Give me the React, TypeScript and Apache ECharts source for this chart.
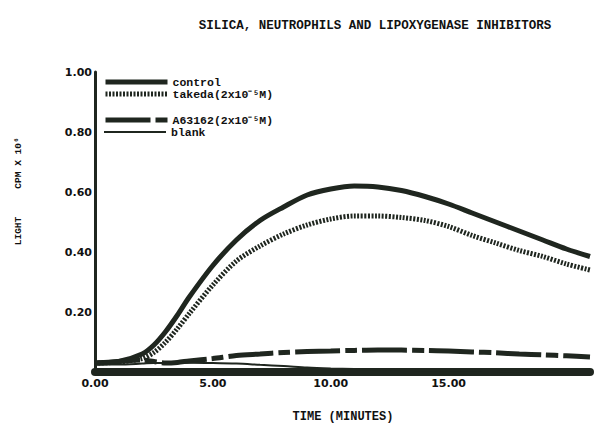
import React, { useEffect, useRef } from "react";
import * as echarts from "echarts";

const times = [0, 1, 2, 2.5, 3, 3.5, 4, 5, 6, 7, 8, 9, 10, 11, 12, 13, 14, 15, 16, 17, 18, 19, 20, 21];
const control = [0.03, 0.035, 0.06, 0.09, 0.135, 0.19, 0.25, 0.355, 0.44, 0.505, 0.55, 0.59, 0.61, 0.62, 0.617, 0.605, 0.585, 0.56, 0.53, 0.5, 0.47, 0.44, 0.41, 0.385];
const takeda = [0.03, 0.033, 0.045, 0.065, 0.1, 0.145, 0.195, 0.29, 0.37, 0.42, 0.46, 0.49, 0.51, 0.52, 0.52, 0.515, 0.505, 0.485, 0.455, 0.43, 0.405, 0.385, 0.36, 0.34];
const a63162 = [0.03, 0.035, 0.04, 0.035, 0.03, 0.032, 0.037, 0.045, 0.055, 0.06, 0.065, 0.068, 0.07, 0.072, 0.073, 0.073, 0.072, 0.07, 0.067, 0.064, 0.06, 0.057, 0.054, 0.05];
const blank = [0.025, 0.025, 0.028, 0.03, 0.03, 0.03, 0.031, 0.03, 0.028, 0.024, 0.02, 0.015, 0.012, 0.01, 0.008, 0.007, 0.006, 0.005, 0.004, 0.003, 0.002, 0.001, 0, 0];

const seriesNames = ["control", "takeda(2x10⁻⁵M)", "A63162(2x10⁻⁵M)", "blank"];
const xTicks = [0, 5, 10, 15];
const yTicks = [0.2, 0.4, 0.6, 0.8, 1.0];

const INK = "#1f261f";
const MONO = "Liberation Mono";

export default function App() {
  const ref = useRef<HTMLDivElement>(null);
  useEffect(() => {
    if (!ref.current) return;
    const chart = echarts.init(ref.current, null, { renderer: "svg" });
    const pair = (arr: number[]) => times.map((t, i) => [t, arr[i]]);
    const legendBase = {
      orient: "vertical",
      left: 103,
      itemWidth: 62,
      itemHeight: 10,
      itemGap: 0,
      itemStyle: { opacity: 0 },
      lineStyle: { width: "inherit", type: "inherit" },
      textStyle: { fontFamily: MONO, fontWeight: "bold", fontSize: 11.5, color: "#111" },
      padding: 0,
    };
    chart.setOption({
      animation: false,
      backgroundColor: "#ffffff",
      title: {
        text: "SILICA, NEUTROPHILS AND LIPOXYGENASE INHIBITORS",
        left: 370,
        top: 14,
        textAlign: "center",
        textStyle: { fontFamily: MONO, fontWeight: "bold", fontSize: 12.5, color: "#111" },
      },
      legend: [
        { ...legendBase, top: 76, data: [seriesNames[0]] },
        { ...legendBase, top: 88, data: [seriesNames[1]] },
        { ...legendBase, top: 114, data: [seriesNames[2]] },
        { ...legendBase, top: 126, data: [seriesNames[3]] },
      ],
      grid: { left: 95, right: 11, top: 72, bottom: 53 },
      xAxis: {
        type: "value",
        min: 0,
        max: 21,
        interval: 5,
        splitLine: { show: false },
        axisTick: { show: false },
        axisLine: { show: true, lineStyle: { color: INK, width: 8 } },
        axisLabel: {
          customValues: xTicks,
          formatter: (v: number) => v.toFixed(2),
          fontFamily: "DejaVu Sans",
          fontWeight: "bold",
          fontSize: 11,
          color: "#111",
          margin: 6,
        },
      },
      yAxis: {
        type: "value",
        min: 0,
        max: 1,
        interval: 0.2,
        splitLine: { show: false },
        axisTick: { show: false },
        axisLine: { show: true, lineStyle: { color: INK, width: 3 } },
        axisLabel: {
          customValues: yTicks,
          formatter: (v: number) => v.toFixed(2),
          fontFamily: "DejaVu Sans",
          fontWeight: "bold",
          fontSize: 11,
          color: "#111",
          margin: 3,
        },
      },
      graphic: [
        {
          type: "text",
          x: 18,
          y: 163,
          rotation: Math.PI / 2,
          style: { text: "CPM X 10⁶", fontFamily: MONO, fontWeight: "bold", fontSize: 9.5, fill: "#111", align: "center", verticalAlign: "middle" },
        },
        {
          type: "text",
          x: 18,
          y: 231,
          rotation: Math.PI / 2,
          style: { text: "LIGHT", fontFamily: MONO, fontWeight: "bold", fontSize: 9.5, fill: "#111", align: "center", verticalAlign: "middle" },
        },
        {
          type: "text",
          x: 343,
          y: 417,
          style: { text: "TIME (MINUTES)", fontFamily: MONO, fontWeight: "bold", fontSize: 12, fill: "#111", align: "center", verticalAlign: "middle" },
        },
      ],
      series: [
        {
          name: seriesNames[0],
          type: "line",
          data: pair(control),
          smooth: 0.3,
          symbol: "none",
          lineStyle: { color: INK, width: 5 },
          itemStyle: { color: INK },
        },
        {
          name: seriesNames[1],
          type: "line",
          data: pair(takeda),
          smooth: 0.3,
          symbol: "none",
          lineStyle: { color: INK, width: 5, type: [2, 1.5] },
          itemStyle: { color: INK },
        },
        {
          name: seriesNames[2],
          type: "line",
          data: pair(a63162),
          smooth: 0.3,
          symbol: "none",
          lineStyle: { color: INK, width: 5, type: [45, 5, 12, 5] },
          itemStyle: { color: INK },
        },
        {
          name: seriesNames[3],
          type: "line",
          data: pair(blank),
          smooth: 0.3,
          symbol: "none",
          lineStyle: { color: INK, width: 2 },
          itemStyle: { color: INK },
        },
      ],
    });
    return () => chart.dispose();
  }, []);
  return <div ref={ref} style={{ width: 601, height: 425, position: "absolute", left: 0, top: 0 }} />;
}
